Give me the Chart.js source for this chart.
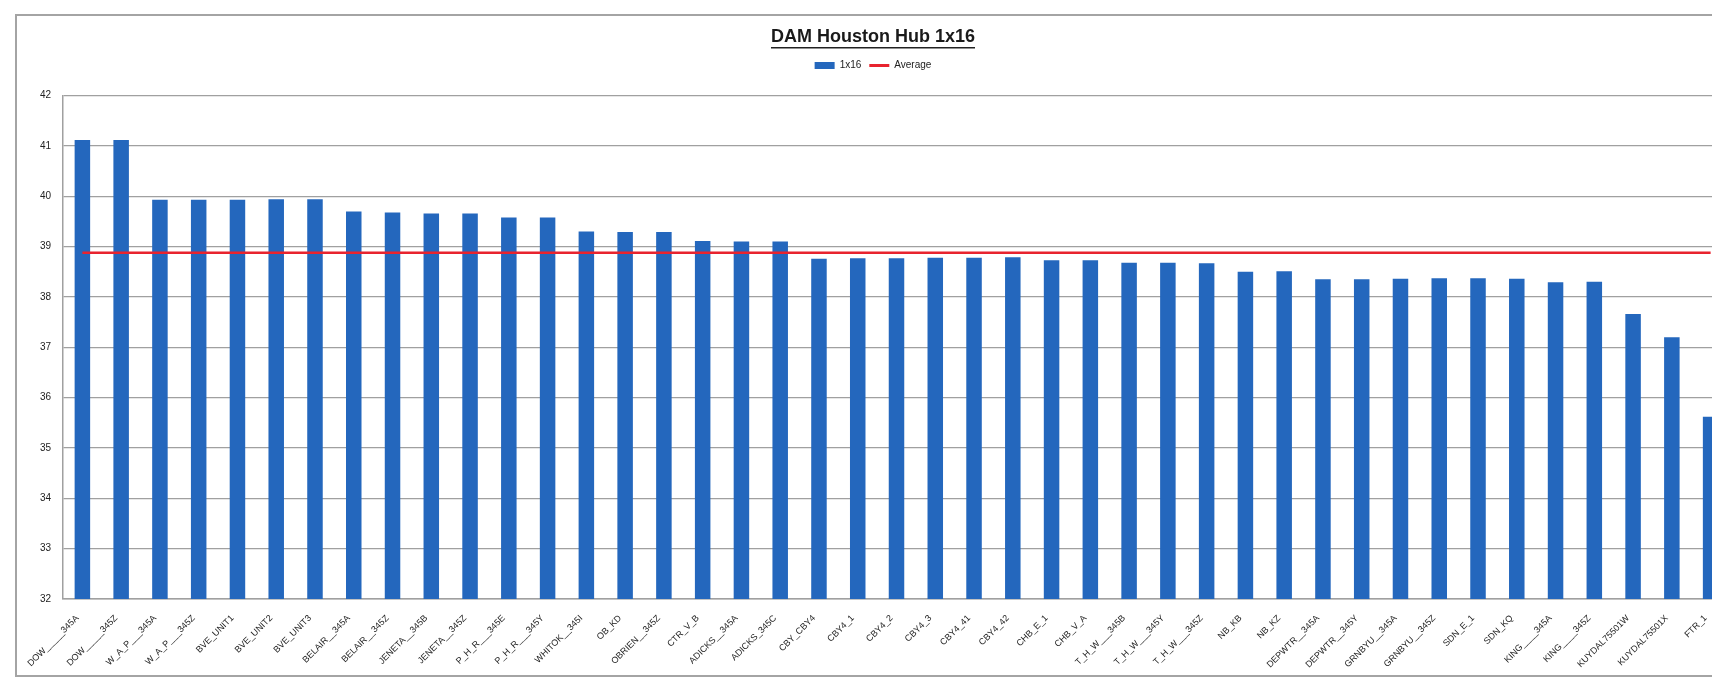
<!DOCTYPE html>
<html>
<head>
<meta charset="utf-8">
<script src="https://cdn.jsdelivr.net/npm/chart.js@4.4.1/dist/chart.umd.min.js"></script>
<style>
  html, body { margin: 0; padding: 0; background: #ffffff; overflow: hidden; }
  #wrap { position: relative; width: 1712px; height: 680px; overflow: hidden; }
  #frame { position: absolute; left: 15px; top: 14px; width: 1780px; height: 663px;
           border: 2px solid #a4a4a4; box-sizing: border-box; pointer-events: none; }
  canvas { position: absolute; left: 0; top: 0; }
</style>
</head>
<body>
<div id="wrap">
  <canvas id="c" width="1750" height="680"></canvas>
  <div id="frame"></div>
</div>
<script>
const chartTitle = 'DAM Houston Hub 1x16';
const categories = [
  'DOW_____345A', 'DOW_____345Z', 'W_A_P___345A', 'W_A_P___345Z', 'BVE_UNIT1',
  'BVE_UNIT2', 'BVE_UNIT3', 'BELAIR__345A', 'BELAIR__345Z', 'JENETA__345B',
  'JENETA__345Z', 'P_H_R___345E', 'P_H_R___345Y', 'WHITOK__345I', 'OB_KD',
  'OBRIEN__345Z', 'CTR_V_B', 'ADICKS__345A', 'ADICKS_345C', 'CBY_CBY4',
  'CBY4_1', 'CBY4_2', 'CBY4_3', 'CBY4_41', 'CBY4_42',
  'CHB_E_1', 'CHB_V_A', 'T_H_W___345B', 'T_H_W___345Y', 'T_H_W___345Z',
  'NB_KB', 'NB_KZ', 'DEPWTR__345A', 'DEPWTR__345Y', 'GRNBYU__345A',
  'GRNBYU__345Z', 'SDN_E_1', 'SDN_KQ', 'KING____345A', 'KING____345Z',
  'KUYDAL75501W', 'KUYDAL75501X', 'FTR_1'
];
const values1x16 = [
  41.12, 41.12, 39.93, 39.93, 39.93,
  39.94, 39.94, 39.70, 39.68, 39.66,
  39.66, 39.58, 39.58, 39.30, 39.29,
  39.29, 39.11, 39.10, 39.10, 38.76,
  38.77, 38.77, 38.78, 38.78, 38.79,
  38.73, 38.73, 38.68, 38.68, 38.67,
  38.50, 38.51, 38.35, 38.35, 38.36,
  38.37, 38.37, 38.36, 38.29, 38.30,
  37.66, 37.20, 35.62
];
const averageValues = [
  38.88, 38.88, 38.88, 38.88, 38.88, 38.88, 38.88, 38.88, 38.88, 38.88,
  38.88, 38.88, 38.88, 38.88, 38.88, 38.88, 38.88, 38.88, 38.88, 38.88,
  38.88, 38.88, 38.88, 38.88, 38.88, 38.88, 38.88, 38.88, 38.88, 38.88,
  38.88, 38.88, 38.88, 38.88, 38.88, 38.88, 38.88, 38.88, 38.88, 38.88,
  38.88, 38.88, 38.88
];
const yTicks = [32, 33, 34, 35, 36, 37, 38, 39, 40, 41, 42];

const BLUE = '#2467bd';
const RED = '#e8232e';
const FONT = '"Liberation Sans", Arial, sans-serif';
const TITLE_SIZE = 18;

const spacer = {
  id: 'spacer',
  beforeInit(chart) {
    const box = {
      position: 'top', weight: 0, fullSize: true, options: {},
      width: 0, height: 0, top: 0, left: 0, right: 0, bottom: 0,
      isHorizontal() { return true; },
      update(maxWidth) { this.width = maxWidth; this.height = 15; return {}; },
      draw() {}
    };
    Chart.layouts.addBox(chart, box);
  }
};

const titleUnderline = {
  id: 'titleUnderline',
  afterDraw(chart) {
    const tb = chart.titleBlock;
    if (!tb) return;
    const ctx = chart.ctx;
    const size = TITLE_SIZE;
    ctx.save();
    ctx.font = 'bold ' + size + 'px ' + FONT;
    const w = ctx.measureText(chartTitle).width;
    const cx = (tb.left + tb.right) / 2;
    const padTop = (tb._padding && tb._padding.top) || 10;
    const cy = tb.top + padTop + size * 1.2 / 2;
    const y = cy + size * 0.5 + 2;
    ctx.strokeStyle = '#222';
    ctx.lineWidth = 1.5;
    ctx.beginPath();
    ctx.moveTo(cx - w / 2, y);
    ctx.lineTo(cx + w / 2, y);
    ctx.stroke();
    ctx.restore();
  }
};

new Chart(document.getElementById('c'), {
  data: {
    labels: categories,
    datasets: [
      {
        type: 'line', label: 'Average', data: averageValues,
        borderColor: RED, backgroundColor: RED, borderWidth: 2.5,
        pointRadius: 0, pointHoverRadius: 0, tension: 0, order: 0
      },
      {
        type: 'bar', label: '1x16', data: values1x16,
        backgroundColor: BLUE, borderWidth: 0,
        categoryPercentage: 0.8, barPercentage: 0.5, order: 1
      }
    ]
  },
  options: {
    responsive: false,
    animation: false,
    devicePixelRatio: 1,
    layout: { padding: { left: 16, right: 20, top: 14, bottom: 0 } },
    plugins: {
      title: {
        display: true, text: chartTitle, color: '#1a1a1a',
        font: { family: FONT, size: TITLE_SIZE, weight: 'bold' },
        padding: { top: 12, bottom: 5 }
      },
      legend: {
        display: true, position: 'top',
        labels: {
          usePointStyle: true, pointStyleWidth: 20, boxHeight: 7,
          padding: 8, color: '#222',
          font: { family: FONT, size: 10 },
          generateLabels() {
            return [
              { text: '1x16', fillStyle: BLUE, strokeStyle: BLUE, lineWidth: 0, pointStyle: 'rect', datasetIndex: 1, fontColor: '#222' },
              { text: 'Average', fillStyle: RED, strokeStyle: RED, lineWidth: 3, pointStyle: 'line', datasetIndex: 0, fontColor: '#222' }
            ];
          }
        }
      },
      tooltip: { enabled: false }
    },
    scales: {
      x: {
        offset: true,
        grid: { display: false, drawTicks: false },
        border: { display: true, color: '#a0a0a0', width: 1.5 },
        ticks: {
          autoSkip: false, minRotation: 45, maxRotation: 45, padding: 14, labelOffset: -5,
          color: '#222', font: { family: FONT, size: 9 }
        },
        afterFit(scale) { scale.height = 81; }
      },
      y: {
        min: 32, max: 42,
        afterBuildTicks(scale) { scale.ticks = yTicks.map(v => ({ value: v })); },
        grid: { color: '#a0a0a0', lineWidth: 1.2, drawTicks: false },
        border: { display: true, color: '#a0a0a0', width: 1.5 },
        ticks: { padding: 12, color: '#222', font: { family: FONT, size: 10 } },
        afterFit(scale) { scale.width = 47; }
      }
    }
  },
  plugins: [spacer, titleUnderline]
});
</script>
</body>
</html>
